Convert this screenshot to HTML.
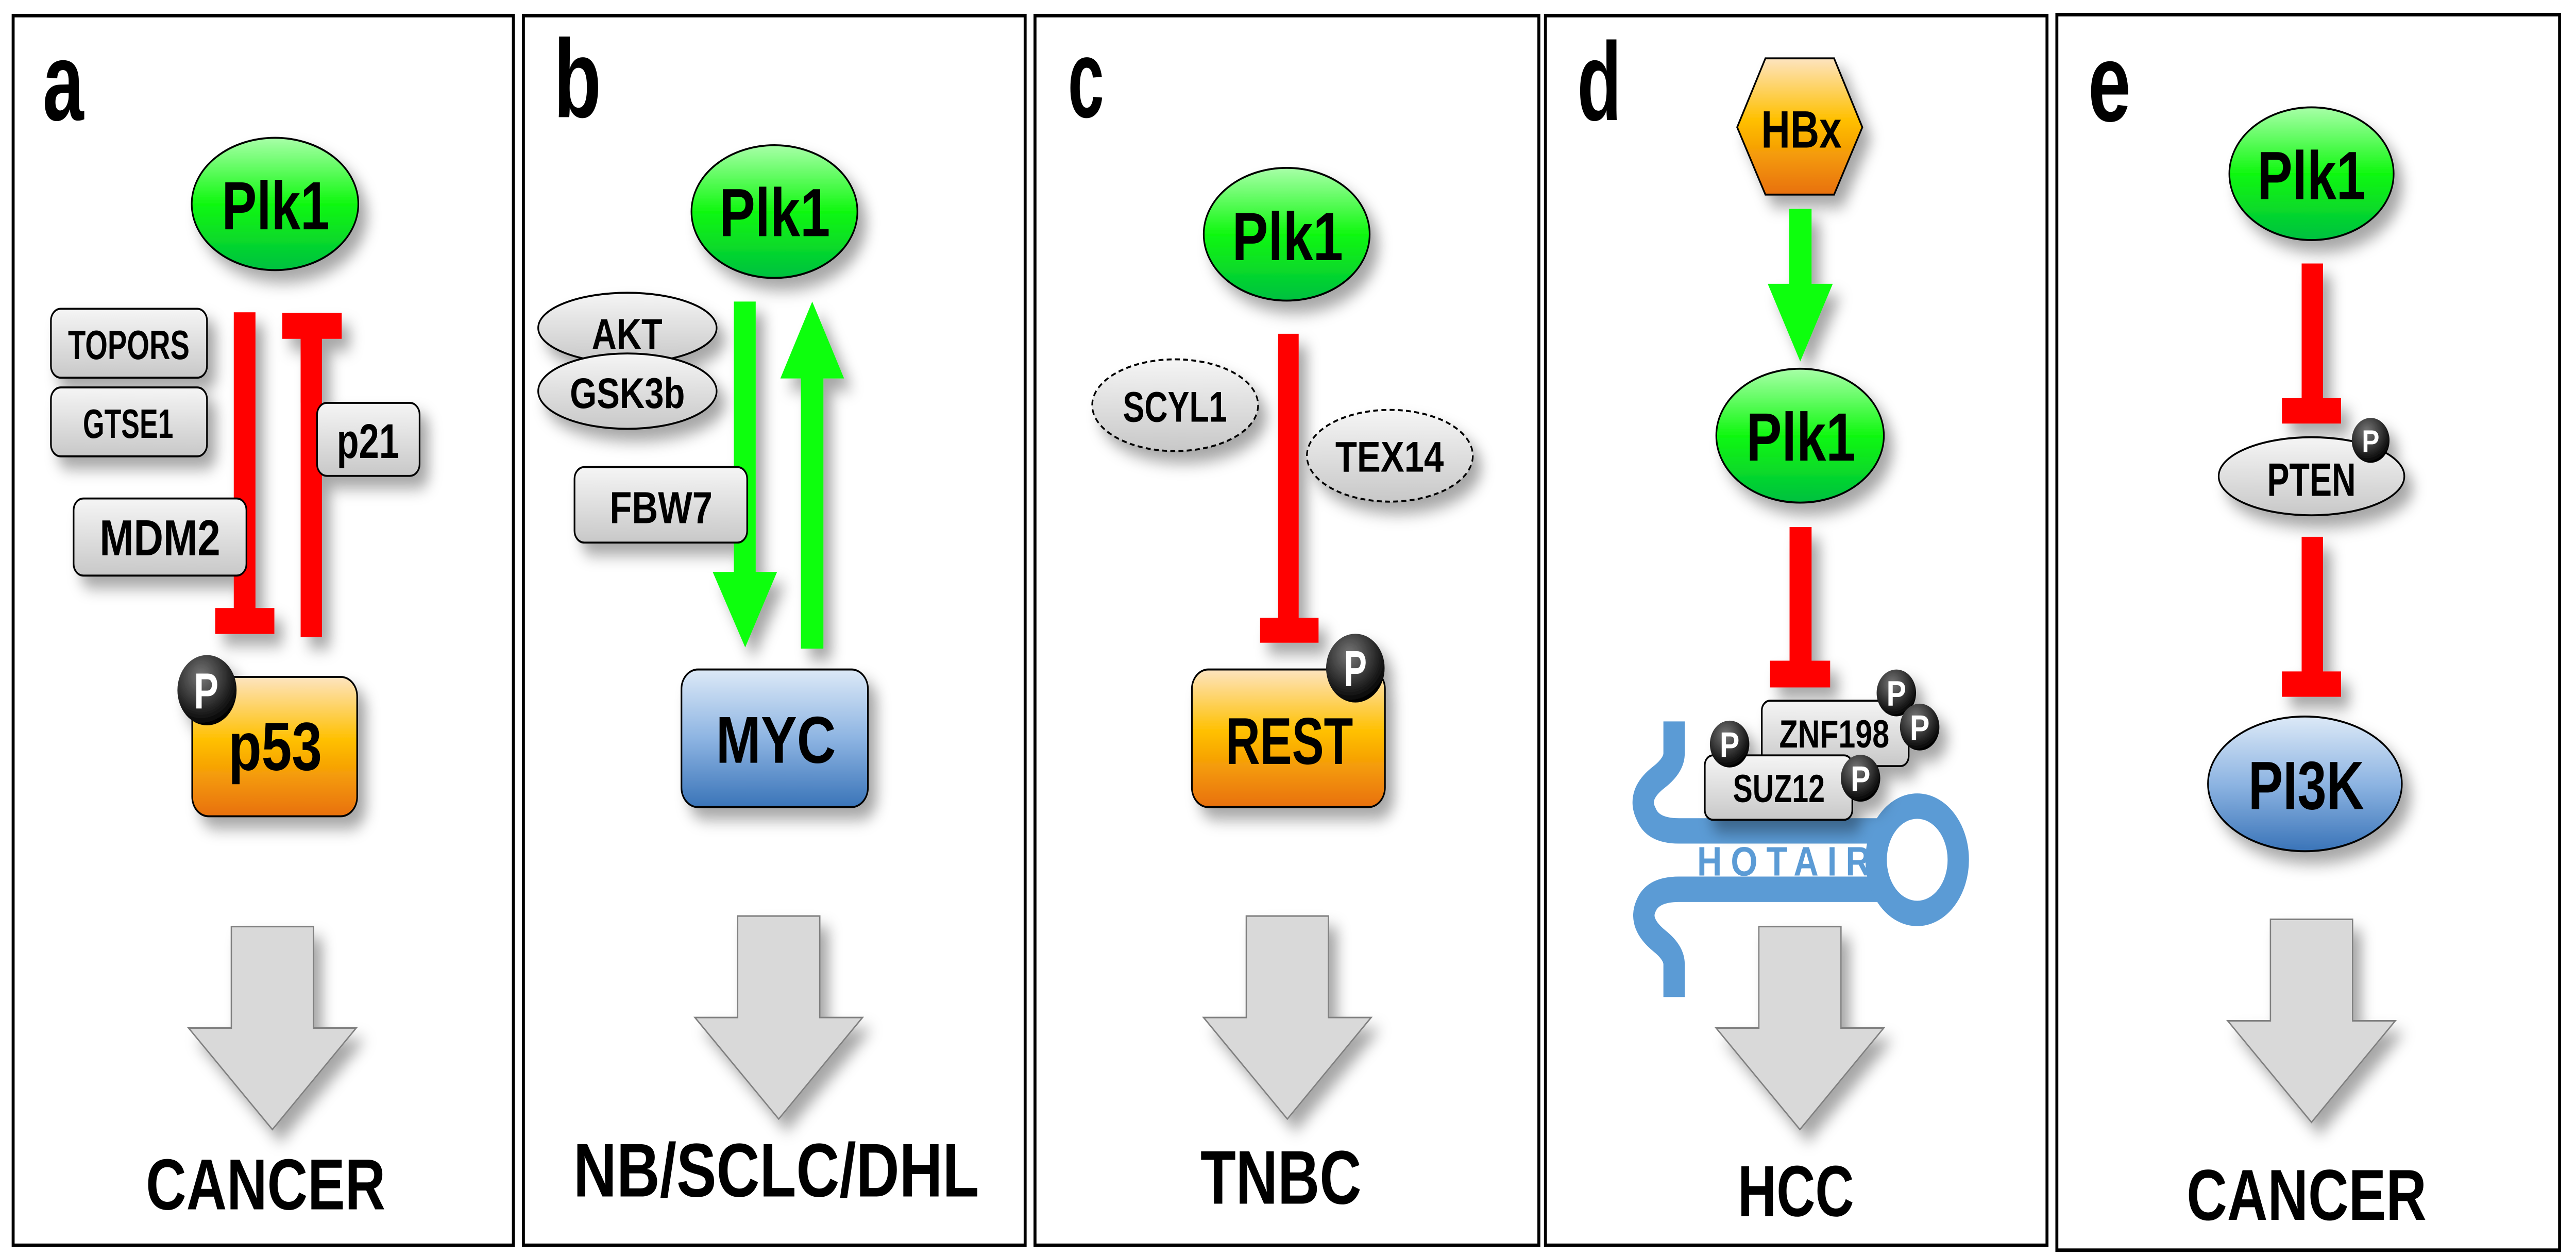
<!DOCTYPE html>
<html><head><meta charset="utf-8"><style>
html,body{margin:0;padding:0;background:#fff;overflow:hidden;width:100vw;height:100vh}
svg{display:block;width:100vw;height:100vh}
text{font-family:"Liberation Sans",sans-serif;font-weight:bold}
</style></head><body>
<svg viewBox="0 0 1568 644" preserveAspectRatio="none" xmlns="http://www.w3.org/2000/svg">
<defs>
<linearGradient id="gr" x1="0" y1="0" x2="0" y2="1"><stop offset="0" stop-color="#a8ffa8"/><stop offset="0.5" stop-color="#10f810"/><stop offset="1" stop-color="#00c040"/></linearGradient>
<linearGradient id="or" x1="0" y1="0" x2="0" y2="1"><stop offset="0" stop-color="#fde4c0"/><stop offset="0.45" stop-color="#ffc000"/><stop offset="1" stop-color="#e87010"/></linearGradient>
<linearGradient id="bl" x1="0" y1="0" x2="0" y2="1"><stop offset="0" stop-color="#dce9f7"/><stop offset="0.5" stop-color="#8db4e2"/><stop offset="1" stop-color="#3a74b8"/></linearGradient>
<linearGradient id="gy" x1="0" y1="0" x2="0" y2="1"><stop offset="0" stop-color="#f5f5f5"/><stop offset="1" stop-color="#c8c8c8"/></linearGradient>
<radialGradient id="pk" cx="0.4" cy="0.3" r="0.7"><stop offset="0" stop-color="#777"/><stop offset="1" stop-color="#000"/></radialGradient>
<filter id="sh" x="-30%" y="-30%" width="170%" height="170%"><feDropShadow dx="5" dy="6" stdDeviation="4" flood-color="#000" flood-opacity="0.35"/></filter>
<g id="bigarrow"><path d="M-25,0 H25 V52 H51 L0,104 L-51,52 H-25 Z" fill="#d9d9d9" stroke="#808080" stroke-width="0.8"/></g>
</defs>
<g fill="none" stroke="#000" stroke-width="1.8">
<rect x="8" y="8" width="304.5" height="630"/>
<rect x="318.6" y="8" width="305.4" height="630"/>
<rect x="630" y="8" width="306.7" height="630"/>
<rect x="940.7" y="8" width="305.3" height="630"/>
<rect x="1252" y="7.5" width="306" height="633"/>
</g>
<g font-size="57">
<text x="26" y="61.5" textLength="25" lengthAdjust="spacingAndGlyphs">a</text>
<text x="337" y="60" textLength="29" lengthAdjust="spacingAndGlyphs">b</text>
<text x="650" y="60" textLength="22" lengthAdjust="spacingAndGlyphs">c</text>
<text x="960" y="61.5" textLength="27" lengthAdjust="spacingAndGlyphs">d</text>
<text x="1271" y="62" textLength="26" lengthAdjust="spacingAndGlyphs">e</text>
</g>

<!-- Panel a -->
<g filter="url(#sh)">
<ellipse cx="167.4" cy="104.5" rx="50.7" ry="33.9" fill="url(#gr)" stroke="#000"/>
<rect x="31" y="158.2" width="95" height="35.3" rx="6" fill="url(#gy)" stroke="#000"/>
<rect x="31" y="198.5" width="95" height="35.3" rx="6" fill="url(#gy)" stroke="#000"/>
<rect x="183" y="170" width="13" height="156.4" fill="#f00"/>
<rect x="171.8" y="160.3" width="36.2" height="13.3" fill="#f00"/>
<rect x="142.3" y="160" width="13.2" height="152" fill="#f00"/>
<rect x="131" y="311.5" width="36" height="13.3" fill="#f00"/>
<rect x="193" y="206.4" width="62.4" height="37.4" rx="6" fill="url(#gy)" stroke="#000"/>
<rect x="44.8" y="255.4" width="105.2" height="39.5" rx="6" fill="url(#gy)" stroke="#000"/>
<rect x="117" y="346.8" width="100.4" height="71.4" rx="10" fill="url(#or)" stroke="#000"/>
<ellipse cx="126" cy="353.6" rx="18" ry="18" fill="url(#pk)"/>
<use href="#bigarrow" x="165.8" y="474.7"/>
</g>
<rect x="183" y="160.3" width="13" height="46" fill="#f00"/>
<g>
<text x="135" y="117.5" font-size="35" textLength="65.6" lengthAdjust="spacingAndGlyphs">Plk1</text>
<text x="41.4" y="184" font-size="21" textLength="74" lengthAdjust="spacingAndGlyphs">TOPORS</text>
<text x="50.5" y="224.3" font-size="21" textLength="55" lengthAdjust="spacingAndGlyphs">GTSE1</text>
<text x="205" y="234.6" font-size="25" textLength="38" lengthAdjust="spacingAndGlyphs">p21</text>
<text x="60.6" y="284.5" font-size="26" textLength="73.5" lengthAdjust="spacingAndGlyphs">MDM2</text>
<text x="139" y="394.5" font-size="35" textLength="57" lengthAdjust="spacingAndGlyphs">p53</text>
<text x="118" y="363" font-size="26" fill="#fff" textLength="15" lengthAdjust="spacingAndGlyphs">P</text>
<text x="88.8" y="619.6" font-size="37" textLength="145.8" lengthAdjust="spacingAndGlyphs">CANCER</text>
</g>

<!-- Panel b -->
<g filter="url(#sh)">
<ellipse cx="471.4" cy="108.4" rx="50.5" ry="34" fill="url(#gr)" stroke="#000"/>
<path d="M446.7,154.5 H460 V293 H473 L453.6,331.7 L433.8,293 H446.7 Z" fill="#10ff10"/>
<path d="M487.5,332.3 H501.2 V193.9 H513.8 L494.4,154.5 L475,193.9 H487.5 Z" fill="#10ff10"/>
<ellipse cx="381.9" cy="168" rx="54.3" ry="18" fill="url(#gy)" stroke="#000"/>
<ellipse cx="381.9" cy="200.4" rx="54.3" ry="19.3" fill="url(#gy)" stroke="#000"/>
<rect x="349.7" y="239.3" width="105.1" height="38.7" rx="6" fill="url(#gy)" stroke="#000"/>
<rect x="414.8" y="343" width="113.5" height="70.5" rx="10" fill="url(#bl)" stroke="#000"/>
<use href="#bigarrow" x="474" y="469.3"/>
</g>
<g>
<text x="437.8" y="121" font-size="35" textLength="67.5" lengthAdjust="spacingAndGlyphs">Plk1</text>
<text x="360.2" y="178.7" font-size="22" textLength="43" lengthAdjust="spacingAndGlyphs">AKT</text>
<text x="346.9" y="209" font-size="22" textLength="70" lengthAdjust="spacingAndGlyphs">GSK3b</text>
<text x="371.1" y="268" font-size="23" textLength="62.6" lengthAdjust="spacingAndGlyphs">FBW7</text>
<text x="435.8" y="390.8" font-size="34" textLength="73" lengthAdjust="spacingAndGlyphs">MYC</text>
<text x="349" y="613" font-size="39" textLength="247" lengthAdjust="spacingAndGlyphs">NB/SCLC/DHL</text>
</g>

<!-- Panel c -->
<g filter="url(#sh)">
<ellipse cx="783.2" cy="120" rx="50.5" ry="34" fill="url(#gr)" stroke="#000"/>
<ellipse cx="715.3" cy="207.6" rx="50.5" ry="23.5" fill="url(#gy)" stroke="#000" stroke-dasharray="3,2"/>
<ellipse cx="846" cy="233.5" rx="50.5" ry="23.5" fill="url(#gy)" stroke="#000" stroke-dasharray="3,2"/>
<rect x="778" y="171" width="12.5" height="146" fill="#f00"/>
<rect x="767" y="316.5" width="35.6" height="12.8" fill="#f00"/>
<rect x="725.5" y="343" width="117.5" height="70.5" rx="10" fill="url(#or)" stroke="#000"/>
<ellipse cx="825" cy="342.3" rx="17.8" ry="17.6" fill="url(#pk)"/>
<use href="#bigarrow" x="783.6" y="469.3"/>
</g>
<g>
<text x="750" y="133.3" font-size="35" textLength="67.5" lengthAdjust="spacingAndGlyphs">Plk1</text>
<text x="683.5" y="216" font-size="22" textLength="63.4" lengthAdjust="spacingAndGlyphs">SCYL1</text>
<text x="812.8" y="241.7" font-size="22" textLength="66" lengthAdjust="spacingAndGlyphs">TEX14</text>
<text x="746" y="391.4" font-size="34" textLength="77.6" lengthAdjust="spacingAndGlyphs">REST</text>
<text x="818" y="351.5" font-size="26" fill="#fff" textLength="14" lengthAdjust="spacingAndGlyphs">P</text>
<text x="730.7" y="616.7" font-size="39" textLength="98" lengthAdjust="spacingAndGlyphs">TNBC</text>
</g>

<!-- Panel d -->
<g filter="url(#sh)">
<polygon points="1074.6,29.9 1116.4,29.9 1133.6,65.2 1116.4,99.7 1074.6,99.7 1057.4,65.2" fill="url(#or)" stroke="#000"/>
<path d="M1089.1,107 H1102.7 V145.4 H1115.6 L1095.8,185.2 L1076,145.4 H1089.1 Z" fill="#10ff10"/>
<ellipse cx="1095.7" cy="223.2" rx="51" ry="34.3" fill="url(#gr)" stroke="#000"/>
<rect x="1089.3" y="270" width="13.4" height="69" fill="#f00"/>
<rect x="1077.4" y="338.5" width="36.6" height="13.7" fill="#f00"/>
<use href="#bigarrow" x="1095.6" y="474.7"/>
</g>
<g fill="none" stroke="#5b9bd5" stroke-width="13">
<path d="M1019,369.6 V386 Q1019,392 1010,398 Q996,407 1002,417 Q1006,425.7 1022,425.7 H1146"/>
<path d="M1146,455.6 H1022 Q1006,455.6 1002,464 Q997,473 1010,482 Q1019,488 1019,494 V510.8"/>
<ellipse cx="1167" cy="440.5" rx="25" ry="27.5"/>
</g>
<text x="1033" y="448.5" font-size="21" fill="#5b9bd5" textLength="105.6" lengthAdjust="spacing">HOTAIR</text>
<g filter="url(#sh)">
<rect x="1072.4" y="359" width="89.4" height="33.5" rx="5" fill="url(#gy)" stroke="#000"/>
<rect x="1037.7" y="387" width="89.8" height="33" rx="5" fill="url(#gy)" stroke="#000"/>
<circle cx="1154.3" cy="355" r="12" fill="url(#pk)"/>
<circle cx="1168.5" cy="372.5" r="12" fill="url(#pk)"/>
<circle cx="1052.8" cy="381.2" r="12" fill="url(#pk)"/>
<circle cx="1132.5" cy="398.7" r="12" fill="url(#pk)"/>
</g>
<g>
<text x="1072" y="75.6" font-size="27" textLength="49" lengthAdjust="spacingAndGlyphs">HBx</text>
<text x="1063" y="236" font-size="35" textLength="66.5" lengthAdjust="spacingAndGlyphs">Plk1</text>
<text x="1083" y="383" font-size="20" textLength="67" lengthAdjust="spacingAndGlyphs">ZNF198</text>
<text x="1054.8" y="411" font-size="20" textLength="56" lengthAdjust="spacingAndGlyphs">SUZ12</text>
<g font-size="18" fill="#fff" text-anchor="middle"><text x="1154.3" y="361.5">P</text><text x="1168.5" y="379">P</text><text x="1052.8" y="387.7">P</text><text x="1132.5" y="405.2">P</text></g>
<text x="1057.8" y="623" font-size="37" textLength="70.7" lengthAdjust="spacingAndGlyphs">HCC</text>
</g>

<!-- Panel e -->
<g filter="url(#sh)">
<ellipse cx="1407" cy="89" rx="50" ry="34" fill="url(#gr)" stroke="#000"/>
<rect x="1401" y="135" width="13" height="70" fill="#f00"/>
<rect x="1389" y="204" width="36" height="13" fill="#f00"/>
<ellipse cx="1407" cy="244" rx="56.5" ry="20" fill="url(#gy)" stroke="#000"/>
<circle cx="1443" cy="225.6" r="11.5" fill="url(#pk)"/>
<rect x="1401" y="275" width="13" height="70" fill="#f00"/>
<rect x="1389" y="344" width="36" height="13" fill="#f00"/>
<ellipse cx="1403" cy="401.6" rx="59" ry="34.5" fill="url(#bl)" stroke="#000"/>
<use href="#bigarrow" x="1407" y="471"/>
</g>
<g>
<text x="1374" y="102" font-size="35" textLength="66" lengthAdjust="spacingAndGlyphs">Plk1</text>
<text x="1380" y="254" font-size="24" textLength="54" lengthAdjust="spacingAndGlyphs">PTEN</text>
<text x="1443" y="231.5" font-size="16" fill="#fff" text-anchor="middle">P</text>
<text x="1368.5" y="414.5" font-size="35" textLength="70.5" lengthAdjust="spacingAndGlyphs">PI3K</text>
<text x="1331" y="625" font-size="37" textLength="146" lengthAdjust="spacingAndGlyphs">CANCER</text>
</g>
</svg>
</body></html>
